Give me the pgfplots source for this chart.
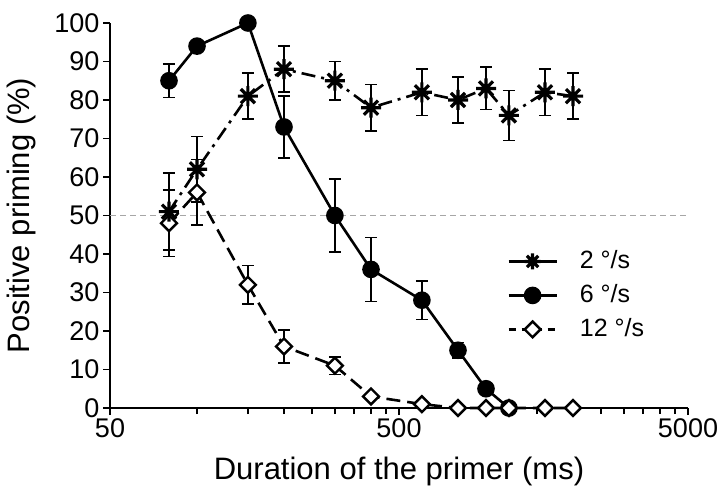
\documentclass[border=0pt]{standalone}
\usepackage{pgfplots}
\pgfplotsset{compat=1.18}
\usepackage{pgfplotstable}
\usepackage{fontspec}
\setmainfont{Liberation Sans}

\pgfdeclareplotmark{star8}{%
  \pgfpathmoveto{\pgfqpoint{-\pgfplotmarksize}{0pt}}\pgfpathlineto{\pgfqpoint{\pgfplotmarksize}{0pt}}%
  \pgfpathmoveto{\pgfqpoint{0pt}{-\pgfplotmarksize}}\pgfpathlineto{\pgfqpoint{0pt}{\pgfplotmarksize}}%
  \pgfpathmoveto{\pgfqpointpolar{45}{\pgfplotmarksize}}\pgfpathlineto{\pgfqpointpolar{225}{\pgfplotmarksize}}%
  \pgfpathmoveto{\pgfqpointpolar{135}{\pgfplotmarksize}}\pgfpathlineto{\pgfqpointpolar{315}{\pgfplotmarksize}}%
  \pgfusepathqstroke}

\pgfplotstableread{
x y e
80 51 10
100 62 8.5
150 81 6
200 88 6
300 85 5
400 78 6
600 82 6
800 80 6
1000 83 5.5
1200 76 6.5
1600 82 6
2000 81 6
}\stars

\pgfplotstableread{
x y e
80 85 4.3
100 94 0
150 100 0
200 73 8
300 50 9.5
400 36 8.3
600 28 5
800 15 2
1000 5 0
1200 0 0
}\circles

\pgfplotstableread{
x y e
80 48 8.7
100 56 8.5
150 32 5
200 16 4.3
300 11 2.3
400 3 0
600 1 0
800 0 0
1000 0 0
1200 0 0
1600 0 0
2000 0 0
}\diamonds

\pgfplotsset{
  starstyle/.style={black, line width=2.6bp, dash pattern=on 14bp off 6bp on 3bp off 6bp,
    mark=star8, mark size=10bp, mark options={solid, line width=3.2bp}},
  circstyle/.style={black, line width=2.6bp, solid,
    mark=*, mark size=7.5bp, mark options={solid, fill=black}},
  diamstyle/.style={black, line width=2.6bp, dash pattern=on 14bp off 7bp,
    mark=square*, mark size=5.6bp, mark options={solid, rotate=45, fill=white, line width=2.4bp}},
  errstyle/.style={forget plot, draw=none, mark=*, mark size=0bp,
    error bars/.cd, y dir=both, y explicit, error mark=-,
    error bar style={draw=black, line width=1.6bp, solid},
    error mark options={rotate=90, draw=black, line width=1.6bp, solid, mark size=6bp}},
}

\begin{document}
\begin{tikzpicture}
\begin{axis}[
  at={(0,0)}, anchor=south west,
  scale only axis, width=578bp, height=385bp,
  xmode=log, xmin=50, xmax=5000, ymin=0, ymax=100,
  clip=false,
  axis x line*=bottom, axis y line*=left,
  axis line style={line width=1.8bp, black},
  tick align=outside,
  tick style={line width=1.8bp, black},
  major tick length=7bp, minor tick length=6bp,
  xtick={50,500,5000}, xticklabels={50,500,5000},
  minor xtick={100,150,200,250,300,350,400,450,1000,1500,2000,2500,3000,3500,4000,4500},
  ytick={0,10,20,30,40,50,60,70,80,90,100},
  /pgf/number format/assume math mode=true,
  ticklabel style={font=\fontsize{27bp}{30bp}\selectfont},
  xlabel={Duration of the primer (ms)},
  ylabel={Positive priming (\%)},
  every axis x label/.style={at={(axis description cs:0.5,0)}, yshift=-63bp, anchor=center,
    font=\fontsize{31bp}{34bp}\selectfont},
  every axis y label/.style={at={(axis description cs:0,0.5)}, xshift=-89bp, rotate=90, anchor=center,
    font=\fontsize{31bp}{34bp}\selectfont},
  legend style={at={(axis description cs:0.687,0.415)}, anchor=north west, draw=none, fill=none,
    font=\fontsize{25bp}{28bp}\selectfont, row sep=8bp, inner sep=0pt,
    nodes={inner sep=2bp, text height=18bp, text depth=4bp}},
  legend cell align=left,
  legend image code/.code={\draw[mark repeat=2, mark phase=2, #1] plot coordinates {(0bp,0bp) (24bp,0bp) (48bp,0bp)};},
  /tikz/every odd column/.append style={column sep=20bp},
]
\addplot[forget plot, gray!70, line width=1.2bp, dash pattern=on 6bp off 4bp] coordinates {(50,50) (5000,50)};

\addplot[errstyle] table[x=x, y=y, y error=e] {\circles};
\addplot[errstyle] table[x=x, y=y, y error=e] {\diamonds};
\addplot[errstyle] table[x=x, y=y, y error=e] {\stars};

\addplot[circstyle, forget plot] table[x=x, y=y] {\circles};
\addplot[diamstyle, forget plot] table[x=x, y=y] {\diamonds};
\addplot[starstyle, forget plot] table[x=x, y=y] {\stars};

\addlegendimage{starstyle, solid, mark size=8bp}
\addlegendentry{2 °/s}
\addlegendimage{circstyle}
\addlegendentry{6 °/s}
\addlegendimage{diamstyle, dash pattern=on 7bp off 6bp}
\addlegendentry{12 °/s}
\end{axis}
\pgfresetboundingbox
\path[use as bounding box] (-110bp,-87bp) rectangle (610bp,408bp);
\end{tikzpicture}
\end{document}
